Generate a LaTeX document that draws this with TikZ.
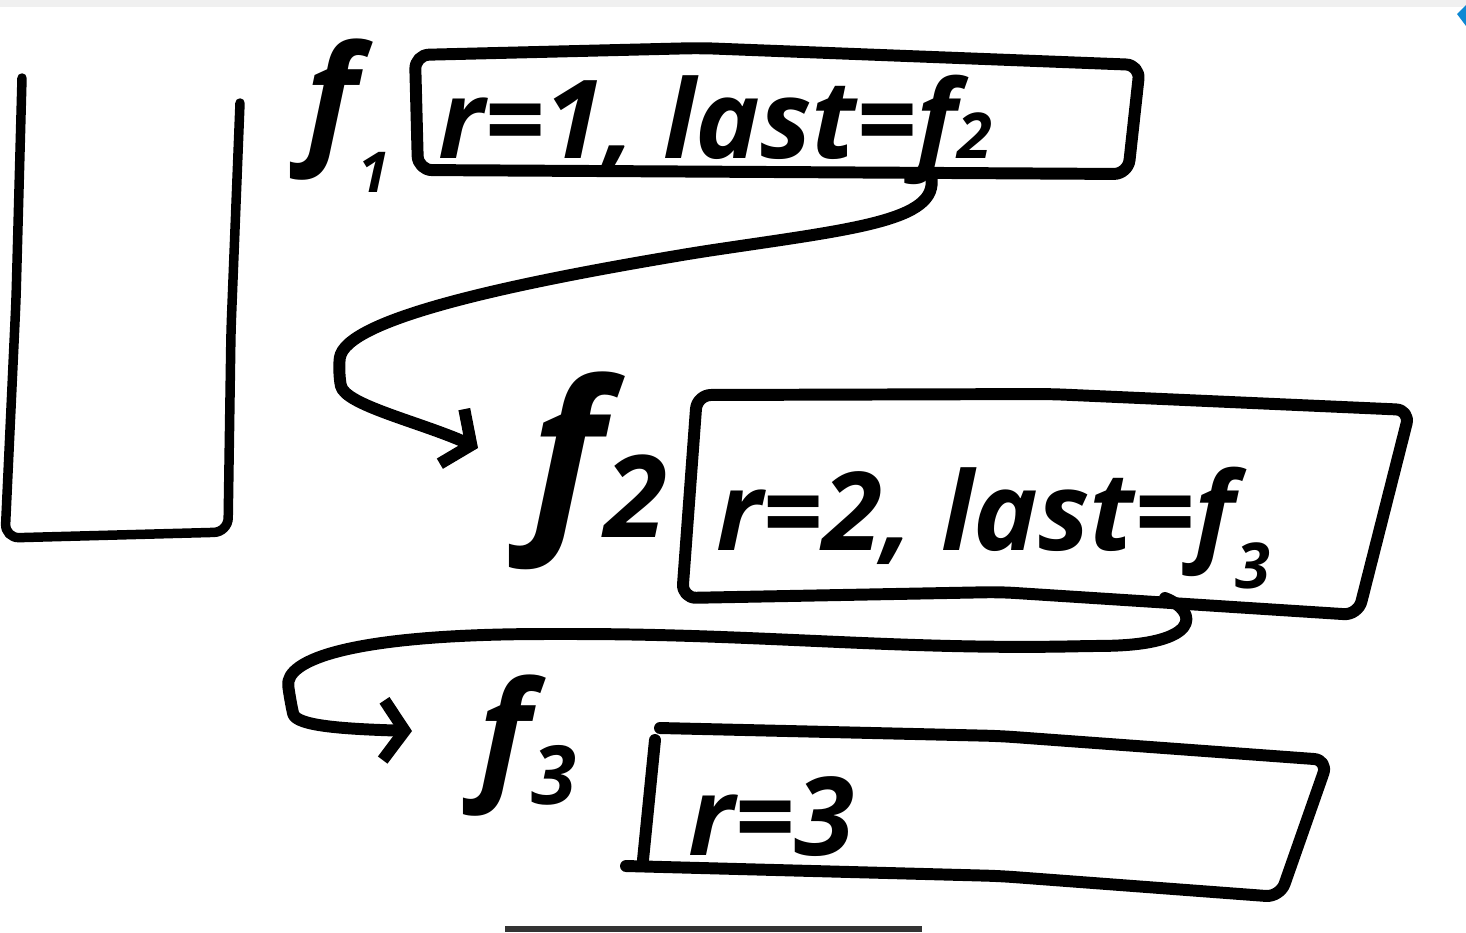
\documentclass[tikz,border=0pt]{standalone}
\usepackage{fontspec}
\usepackage{graphicx}
\setmainfont{Open Sans}
\usetikzlibrary{arrows.meta}

% hand-written index
\newcommand{\idx}[2][-0.15em]{\raisebox{#1}{\scalebox{0.58}{#2}}}

\begin{document}
\begin{tikzpicture}[
        x=0.01cm, y=-0.01cm,
        >={Straight Barb[length=6pt,width=17pt]},
        pen/.style={line width=3.4pt,line cap=round,line join=round,rounded corners=4pt},
        stackpen/.style={line width=2.7pt,line cap=round,line join=round,rounded corners=4pt},
        cell/.style={font=\fontsize{31}{31}\selectfont\bfseries\itshape,inner sep=0pt,anchor=base west},
        fname/.style={inner sep=0pt,anchor=base west}
    ]

    % page
    \useasboundingbox (0,0) rectangle (1466,932);
    \fill[white] (0,0) rectangle (1466,932);
    \fill[gray!12] (0,0) rectangle (1466,7);
    \fill[cyan!70!blue] (1457,14) -- (1466,5) -- (1466,26) -- cycle;
    \fill[black!80] (505,926) rectangle (922,932);

    % stack
    \draw[stackpen] (22,78) -- (16,300) -- (5,538) -- (228,532) -- (231,330) -- (240,103);

    % frame f1
    \node[fname,font=\fontsize{40}{40}\selectfont\bfseries\itshape] (f1) at (305,146)
        {f\raisebox{-0.33em}{\scalebox{0.4}{1}}};
    \draw[pen] (415,55) -- (418,170) -- (1128,174) -- (1140,65) -- (700,48) -- cycle;
    \node[cell] (frame1) at (438,158) {r=1, last=f\idx[0em]{2}};

    % frame f2
    \node[fname,font=\fontsize{56}{56}\selectfont\bfseries\itshape] (f2) at (530,522) {f\idx[-0.08em]{2}};
    \draw[pen] (697,395) -- (682,598) -- (1000,592) -- (1358,615) -- (1410,410) -- (1050,394) -- cycle;
    \node[cell] (frame2) at (716,550) {r=2, last=f\idx[-0.35em]{3}};

    % frame f3
    \node[fname,font=\fontsize{40}{40}\selectfont\bfseries\itshape] (f3) at (478,782) {f\idx[-0.16em]{3}};
    \draw[pen] (660,728) -- (1000,736) -- (1328,760) -- (1280,897) -- (1000,876) -- (626,866);
    \draw[pen] (655,740) -- (643,860);
    \node[cell] (frame3) at (688,855) {r=3};

    % last pointers
    \coordinate (tail1) at (930,172);
    \coordinate (tip1) at (478,448);
    \coordinate (tail2) at (1165,598);
    \coordinate (tip2) at (412,731);

    \draw[pen,->] (tail1) .. controls (945,220) and (860,228) .. (700,252)
        .. controls (520,282) and (345,318) .. (338,372)
        .. controls (345,405) and (420,422) .. (tip1);
    \draw[pen,->] (tail2) .. controls (1200,612) and (1200,645) .. (1090,646)
        .. controls (900,650) and (760,634) .. (560,634)
        .. controls (350,634) and (285,660) .. (290,700)
        .. controls (296,726) and (345,729) .. (tip2);

\end{tikzpicture}
\end{document}
